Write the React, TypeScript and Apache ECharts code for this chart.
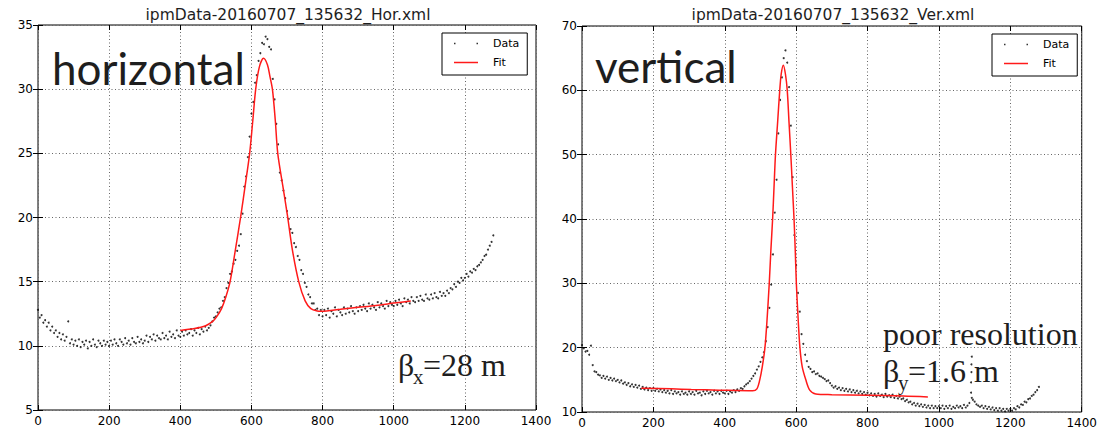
import React, { useEffect, useRef } from 'react';
import * as echarts from 'echarts';

const horTitle = 'ipmData-20160707_135632_Hor.xml';
const verTitle = 'ipmData-20160707_135632_Ver.xml';
const xTickValues = [0, 200, 400, 600, 800, 1000, 1200, 1400];
const dataStep = 5; // sample spacing of the measured points (x = 0, 5, 10, ...)

const horData = [
  12.8, 12.2, 12.4, 11.8, 12.0, 11.5, 11.8, 11.2, 11.5, 11.0, 11.2, 10.7, 11.0, 10.5, 10.9, 10.4, 10.7, 11.9, 10.2, 10.5,
  10.1, 10.4, 10.0, 10.5, 9.9, 10.3, 10.1, 10.4, 9.8, 10.3, 10.0, 10.5, 10.1, 9.9, 10.4, 10.2, 10.0, 10.4, 10.1, 10.3,
  10.0, 10.4, 10.1, 10.5, 10.2, 10.0, 10.5, 10.3, 10.1, 10.6, 10.2, 10.4, 10.1, 10.6, 10.3, 10.2, 10.7, 10.3, 10.5, 10.2,
  10.4, 10.8, 10.3, 10.7, 10.5, 10.9, 10.4, 10.8, 10.6, 10.5, 11.0, 10.6, 10.8, 10.5, 11.1, 10.7, 10.9, 10.6, 11.2, 10.8,
  10.7, 11.1, 10.8, 11.2, 10.9, 11.0, 11.3, 10.8, 11.2, 11.0, 11.4, 10.9, 11.3, 11.1, 11.5, 11.2, 11.4, 11.6, 11.9, 12.2,
  12.3, 12.6, 12.9, 13.0, 13.5, 13.8, 14.5, 14.9, 15.6, 15.8, 16.4, 16.7, 17.4, 17.8, 18.7, 20.3, 22.4, 23.2, 24.7, 26.3,
  28.1, 29.0, 30.5, 31.1, 32.2, 32.8, 33.6, 33.5, 34.1, 33.9, 33.3, 33.1, 30.8, 29.2, 27.3, 25.7, 23.5, 22.9, 22.1, 21.5,
  20.5, 19.9, 19.1, 18.8, 18.0, 17.7, 17.0, 16.7, 15.9, 15.6, 14.9, 14.6, 14.0, 13.8, 13.3, 13.3, 12.8, 12.9, 12.4, 12.8,
  12.3, 12.8, 12.4, 12.9, 12.2, 12.7, 12.5, 13.0, 12.3, 12.8, 12.6, 12.4, 13.0, 12.5, 12.9, 12.6, 13.1, 12.7, 12.5, 13.0,
  12.7, 13.1, 12.8, 13.2, 12.9, 12.7, 13.3, 12.9, 13.2, 13.0, 12.8, 13.4, 13.0, 13.3, 13.1, 12.9, 13.5, 13.1, 13.4, 13.2,
  13.1, 13.5, 13.2, 13.6, 13.3, 13.1, 13.7, 13.4, 13.6, 13.3, 13.8, 13.5, 13.4, 13.8, 13.5, 13.9, 13.6, 13.5, 14.0, 13.7,
  13.6, 14.0, 13.7, 14.1, 13.8, 13.7, 14.2, 13.9, 14.1, 13.9, 14.3, 14.1, 14.5, 14.4, 14.8, 14.6, 15.0, 14.9, 15.3, 15.1,
  15.3, 15.6, 15.4, 15.8, 15.7, 16.0, 15.9, 16.2, 16.3, 16.5, 16.7, 17.0, 17.1, 17.5, 17.8, 18.1, 18.6,
];

const verData = [
  20.4, 19.9, 19.4, 19.5, 18.9, 20.3, 17.3, 16.3, 16.2, 15.8, 15.7, 15.3, 15.6, 15.2, 15.5, 15.0, 15.3, 14.9, 15.2, 14.8,
  15.0, 14.6, 14.9, 14.4, 14.6, 14.2, 14.5, 14.0, 14.3, 13.9, 14.2, 13.8, 14.1, 13.6, 13.9, 13.5, 13.8, 13.4, 13.7, 13.3,
  13.7, 13.3, 13.6, 13.2, 13.5, 13.1, 13.4, 13.0, 13.3, 12.9, 13.4, 12.8, 13.2, 12.9, 13.1, 12.7, 13.2, 12.8, 13.0, 12.7,
  13.2, 12.8, 13.1, 12.7, 13.3, 12.9, 13.0, 12.6, 13.2, 12.8, 13.3, 12.9, 13.1, 12.7, 13.3, 12.9, 13.2, 12.8, 13.3, 13.0,
  12.9, 13.3, 12.8, 13.2, 13.0, 13.4, 13.1, 13.5, 13.3, 13.7, 13.6, 14.0, 14.3, 14.5, 14.8, 15.2, 15.6, 16.0, 16.6, 17.1,
  17.8, 18.5, 19.3, 21.0, 23.2, 26.2, 29.8, 34.5, 41.0, 46.1, 53.3, 58.5, 62.0, 65.0, 66.2, 64.3, 60.5, 54.5, 46.5, 37.5,
  32.8, 28.5, 25.6, 22.1, 20.6, 18.9, 17.9, 17.0, 16.7, 16.2, 16.3, 15.9, 16.0, 15.6, 15.5, 15.3, 15.1, 14.8, 14.9, 14.5,
  14.1, 13.8, 14.0, 13.6, 13.8, 13.4, 13.7, 13.3, 13.6, 13.2, 13.5, 13.1, 13.4, 13.0, 13.3, 12.9, 13.2, 12.8, 13.1, 12.7,
  13.0, 12.6, 12.9, 12.5, 12.8, 12.4, 12.9, 12.5, 12.7, 12.3, 12.8, 12.4, 12.6, 12.3, 12.7, 12.2, 12.5, 12.1, 12.4, 12.0,
  12.1, 11.7, 11.9, 11.5, 11.6, 11.2, 11.4, 11.0, 11.3, 10.9, 11.2, 10.8, 11.1, 10.7, 11.0, 10.6, 11.0, 10.6, 10.9, 10.6,
  10.9, 10.6, 11.0, 10.5, 10.9, 10.6, 11.0, 10.5, 10.8, 10.6, 11.0, 10.7, 10.9, 10.6, 11.1, 10.7, 11.0, 11.4, 13.0, 11.9,
  11.6, 11.2, 11.0, 10.8, 11.0, 10.6, 10.9, 10.5, 10.8, 10.4, 10.7, 10.3, 10.6, 10.2, 10.6, 10.2, 10.5, 10.1, 10.5, 10.2,
  10.5, 10.2, 10.6, 10.4, 10.9, 10.7, 11.2, 11.1, 11.6, 11.5, 12.0, 12.1, 12.5, 12.7, 13.1, 13.4, 13.9,
];

const verSpikeX = [1090, 1091, 1091, 1092, 1092];
const verSpikeY = [14.6, 16.2, 17.4, 18.6, 12.2];

const horFitX = [400, 440, 470, 491, 503, 516, 528, 540, 555, 570, 583, 595, 604, 612, 622, 634, 645, 652, 659, 667, 674, 688, 701, 715, 733, 751, 767, 785, 797, 850, 900, 950, 1000, 1048];
const horFitY = [11.2, 11.35, 11.55, 11.9, 12.3, 12.9, 13.8, 15.0, 17.5, 20.1, 22.6, 25.0, 27.6, 30.0, 31.7, 32.4, 31.9, 31.0, 30.0, 27.6, 25.0, 22.5, 20.2, 17.5, 15.0, 13.5, 12.9, 12.72, 12.7, 12.85, 13.0, 13.15, 13.33, 13.5];

const verFitX = [166, 250, 306, 385, 478, 490, 498, 505, 512.5, 518, 524.6, 529, 534, 538, 542, 548, 554, 558, 564, 570, 575, 580, 585, 589.5, 594, 597.5, 600.5, 605, 610.5, 617, 627, 638, 655, 700, 800, 900, 969];
const verFitY = [13.7, 13.6, 13.5, 13.4, 13.3, 13.6, 15.0, 17.0, 20.0, 24.0, 30.0, 35.0, 40.0, 45.0, 50.0, 55.0, 60.0, 62.5, 63.9, 62.5, 60.0, 55.0, 50.0, 45.0, 40.0, 35.0, 30.0, 25.0, 20.0, 17.0, 15.0, 13.4, 12.8, 12.7, 12.6, 12.5, 12.35];

const FONT = 'DejaVu Sans';
const SERIF = 'Liberation Serif';
const dataIcon = 'path://M0,0h1v1h-1z M15,0h1v1h-1z';
const plainNumber = (v: number) => String(v);

function xAxes(g: number) {
  const base = {
    gridIndex: g,
    type: 'value',
    min: xTickValues[0],
    max: xTickValues[xTickValues.length - 1],
    interval: xTickValues[1] - xTickValues[0],
    axisLine: { show: false },
    axisTick: { show: true, inside: true, length: 5, lineStyle: { color: '#000' } },
  };
  return [
    {
      ...base,
      position: 'bottom',
      axisLabel: { color: '#000', fontFamily: FONT, fontSize: 12, margin: 5, formatter: plainNumber },
      splitLine: { show: true, lineStyle: { color: '#666', type: [1, 2.5], width: 1 } },
    },
    { ...base, position: 'top', axisLabel: { show: false }, splitLine: { show: false } },
  ];
}

function yAxes(g: number, min: number, max: number, interval: number) {
  const base = {
    gridIndex: g,
    type: 'value',
    min,
    max,
    interval,
    axisLine: { show: false },
    axisTick: { show: true, inside: true, length: 5, lineStyle: { color: '#000' } },
  };
  return [
    {
      ...base,
      position: 'left',
      axisLabel: { color: '#000', fontFamily: FONT, fontSize: 12, margin: 5, formatter: plainNumber },
      splitLine: { show: true, lineStyle: { color: '#666', type: [1, 2.5], width: 1 } },
    },
    { ...base, position: 'right', axisLabel: { show: false }, splitLine: { show: false } },
  ];
}

function legend(left: number, top: number) {
  return {
    left,
    top,
    orient: 'vertical',
    backgroundColor: '#fff',
    borderColor: '#000',
    borderWidth: 1,
    borderRadius: 0,
    padding: [5, 8, 7, 12],
    itemGap: 8,
    itemWidth: 24,
    itemHeight: 1.5,
    selectedMode: false,
    textStyle: { fontFamily: FONT, fontSize: 11, color: '#000', padding: [0, 0, 0, 10] },
    data: [
      { name: 'Data', icon: dataIcon },
      { name: 'Fit', icon: 'rect' },
    ],
  };
}

function txt(x: number, y: number, text: string, fontSize: number, fontFamily: string, align = 'left') {
  return {
    type: 'text',
    x,
    y,
    z: 100,
    style: { text, fontSize, fontFamily, fill: '#1e1e1e', align, verticalAlign: 'middle' },
  };
}

export default function App() {
  const ref = useRef<HTMLDivElement>(null);
  useEffect(() => {
    const chart = echarts.init(ref.current!, null, { renderer: 'svg' });
    const scatterStyle = { color: '#000' };
    const fitStyle = { color: '#ff1a1a', width: 1.5 };
    const option = {
      animation: false,
      backgroundColor: '#fff',
      grid: [
        { left: 38, top: 25, width: 498, height: 385, show: true, borderColor: '#000', borderWidth: 1, backgroundColor: 'transparent' },
        { left: 582, top: 26, width: 500, height: 387, show: true, borderColor: '#000', borderWidth: 1, backgroundColor: 'transparent' },
      ],
      xAxis: [...xAxes(0), ...xAxes(1)],
      yAxis: [...yAxes(0, 5, 35, 5), ...yAxes(1, 10, 70, 10)],
      legend: [legend(442, 33), legend(992, 34)],
      series: [
        {
          name: 'Data', type: 'scatter', xAxisIndex: 0, yAxisIndex: 0, symbol: 'circle', symbolSize: 2,
          itemStyle: scatterStyle, silent: true,
          data: horData.map((v, i) => [i * dataStep, v]),
        },
        {
          name: 'Fit', type: 'line', xAxisIndex: 0, yAxisIndex: 0, showSymbol: false, smooth: 0.3, z: 5,
          lineStyle: fitStyle, itemStyle: { color: fitStyle.color }, silent: true,
          data: horFitX.map((x, i) => [x, horFitY[i]]),
        },
        {
          name: 'Data', type: 'scatter', xAxisIndex: 2, yAxisIndex: 2, symbol: 'circle', symbolSize: 2,
          itemStyle: scatterStyle, silent: true,
          data: [...verData.map((v, i) => [i * dataStep, v]), ...verSpikeX.map((x, i) => [x, verSpikeY[i]])],
        },
        {
          name: 'Fit', type: 'line', xAxisIndex: 2, yAxisIndex: 2, showSymbol: false, smooth: 0.3, z: 5,
          lineStyle: fitStyle, itemStyle: { color: fitStyle.color }, silent: true,
          data: verFitX.map((x, i) => [x, verFitY[i]]),
        },
      ],
      graphic: [
        txt(288, 15, horTitle, 15.5, FONT, 'center'),
        txt(833, 15, verTitle, 15.5, FONT, 'center'),
        txt(52, 68, 'horizontal', 44, 'Lato'),
        txt(595, 66, 'vertical', 44, 'Lato'),
        txt(398, 365, 'β', 32, SERIF),
        txt(413, 377, 'x', 21, SERIF),
        txt(423, 365, '=28 m', 32, SERIF),
        txt(883, 334, 'poor resolution', 32, SERIF),
        txt(883, 371, 'β', 32, SERIF),
        txt(898, 383, 'y', 21, SERIF),
        txt(908, 371, '=1.6 m', 32, SERIF),
      ],
    };
    chart.setOption(option as any);
    return () => chart.dispose();
  }, []);
  return (
    <div
      ref={ref}
      style={{ position: 'fixed', left: 0, top: 0, width: 1100, height: 429, background: '#fff' }}
    />
  );
}
